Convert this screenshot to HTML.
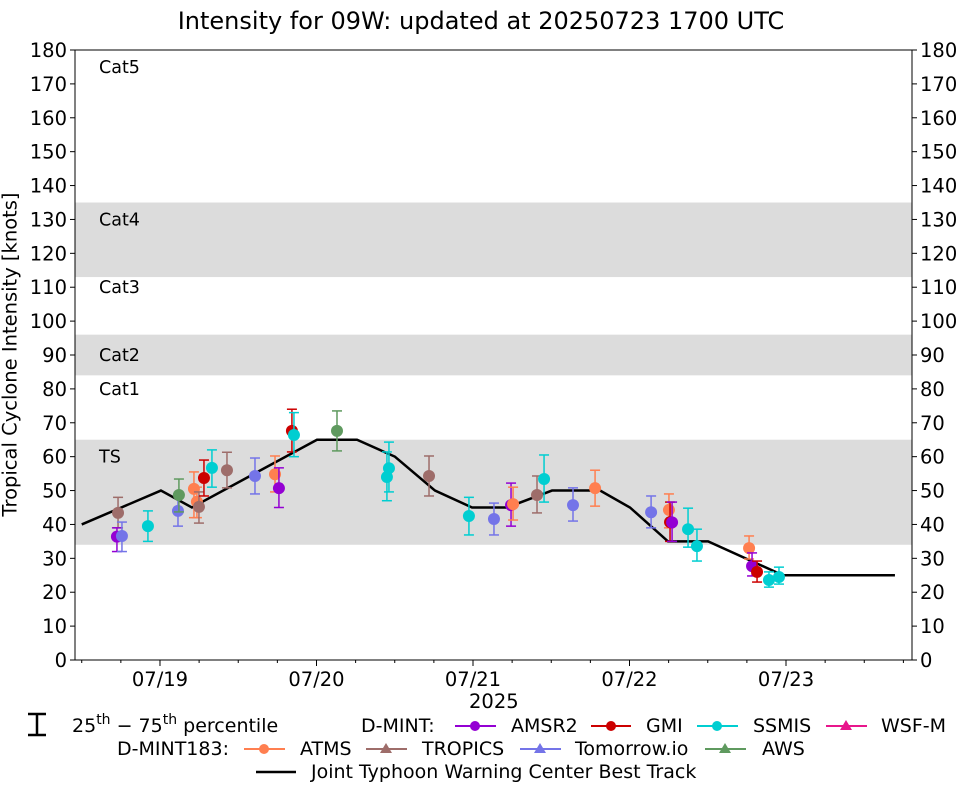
<!DOCTYPE html>
<html><head><meta charset="utf-8"><style>
body{margin:0;background:#fff;}
svg{display:block;font-family:"DejaVu Sans","Liberation Sans",sans-serif;}
</style></head><body>
<svg id="c" width="962" height="785"></svg>
<script>
const trackDays=[0.5,1.006,1.204,2.003,2.259,2.501,2.757,2.994,3.217,3.505,3.812,4.003,4.246,4.502,4.981,5.696];
const trackVals=[40,50,45,65,65,60,50,45,45,50,50,45,35,35,25,25];
const obsSeries=["TROPICS","AMSR2","Tomorrow","SSMIS","Tomorrow","AWS","ATMS","ATMS","TROPICS","GMI","SSMIS","TROPICS","Tomorrow","ATMS","AMSR2","GMI","SSMIS","AWS","SSMIS","SSMIS","TROPICS","SSMIS","Tomorrow","AMSR2","ATMS","TROPICS","SSMIS","Tomorrow","ATMS","Tomorrow","ATMS","GMI","AMSR2","SSMIS","SSMIS","ATMS","AMSR2","GMI","SSMIS","SSMIS"];
const obsDays=[0.732,0.725,0.757,0.923,1.115,1.121,1.217,1.236,1.249,1.281,1.332,1.428,1.607,1.735,1.760,1.843,1.856,2.131,2.450,2.463,2.719,2.974,3.134,3.243,3.256,3.409,3.454,3.639,3.780,4.138,4.252,4.259,4.272,4.374,4.431,4.764,4.783,4.815,4.891,4.955];
const obsVals=[43.4,36.4,36.6,39.5,44,48.7,50.5,46.7,45.2,53.7,56.7,56,54.3,54.8,50.7,67.6,66.4,67.6,54,56.6,54.3,42.5,41.6,45.7,46,48.7,53.4,45.7,50.7,43.6,44.3,40.7,40.6,38.6,33.6,33,27.7,26,23.6,24.5];
const obsLo=[39,32,32,35,39.5,43.7,42,42,40.4,48.4,51,50.8,49,49.6,45,61.4,60,61.7,47,49.6,48.4,36.9,36.9,39.5,41.3,43.4,46.6,41,45.4,39,39,35,35,33.3,29.2,29.8,24.8,23,21.5,22.4];
const obsHi=[48,39,40.7,44,49,53.4,55.5,51,49.6,59,62,61.3,59.6,60.2,56.7,74,73,73.5,61.4,64.3,60.2,48,46.3,52.2,51,54.3,60.5,50.8,56,48.4,49,46.6,46.6,44.8,38.6,36.6,31.6,29.2,26,27.4];
const yTicks=[0,10,20,30,40,50,60,70,80,90,100,110,120,130,140,150,160,170,180];
const xTickDays=[1,2,3,4,5];
const xTickLabels=["07/19","07/20","07/21","07/22","07/23"];
const bands=[[34,65],[84,96],[113,135]];
const catNames=["Cat5","Cat4","Cat3","Cat2","Cat1","TS"];
const catVals=[175,130,110,90,80,60];
const colors={AMSR2:"#9400D3",GMI:"#CC0000",SSMIS:"#00CED1","WSF-M":"#E8168C",ATMS:"#FF7F50",TROPICS:"#9E6D6A",Tomorrow:"#7474E8",AWS:"#5F9A5F"};
const L=75,R=912,T=50,B=660,D0=0.457,D1=5.805;
const X=d=>L+(d-D0)/(D1-D0)*(R-L);
const Y=v=>B-v/180*(B-T);
const svg=document.getElementById('c');const NS="http://www.w3.org/2000/svg";
function mk(t,a,p){const e=document.createElementNS(NS,t);for(const k in a)e.setAttribute(k,a[k]);(p||svg).appendChild(e);return e;}
bands.forEach(b=>{const r=mk('rect',{x:L,y:Y(b[1]),width:R-L,height:Y(b[0])-Y(b[1]),fill:'#dcdcdc'});

});
catNames.forEach((n,i)=>{const t=mk('text',{x:99,y:Y(catVals[i])+6,'font-size':17.5});t.textContent=n;

});
const ax=mk('rect',{x:L,y:T,width:R-L,height:B-T,fill:'none',stroke:'#000','stroke-width':1});


yTicks.forEach(v=>{const y=Y(v);
mk('line',{x1:L-5,x2:L,y1:y,y2:y,stroke:'#000'});mk('line',{x1:R,x2:R+5,y1:y,y2:y,stroke:'#000'});
const a=mk('text',{x:L-8,y:y+7,'text-anchor':'end','font-size':19.5});a.textContent=v;


const b=mk('text',{x:R+8,y:y+7,'font-size':19.5});b.textContent=v;

});
for(let d=0.5;d<D1;d+=0.25){const x=X(d);mk('line',{x1:x,x2:x,y1:B,y2:B+3,stroke:'#000'});}
xTickDays.forEach((d,i)=>{const x=X(d);mk('line',{x1:x,x2:x,y1:B,y2:B+6,stroke:'#000'});
const t=mk('text',{x:x,y:B+26,'text-anchor':'middle','font-size':19.5});t.textContent=xTickLabels[i];

});
const tp=mk('polyline',{points:trackDays.map((d,i)=>X(d)+','+Y(trackVals[i])).join(' '),fill:'none',stroke:'#000','stroke-width':2.5});


obsDays.forEach((d,i)=>{const c=colors[obsSeries[i]];const x=X(d);
const g=mk('g',{});


mk('line',{x1:x,x2:x,y1:Y(obsLo[i]),y2:Y(obsHi[i]),stroke:c,'stroke-width':1.5},g);
mk('line',{x1:x-5,x2:x+5,y1:Y(obsLo[i]),y2:Y(obsLo[i]),stroke:c,'stroke-width':1.5},g);
mk('line',{x1:x-5,x2:x+5,y1:Y(obsHi[i]),y2:Y(obsHi[i]),stroke:c,'stroke-width':1.5},g);
mk('circle',{cx:x,cy:Y(obsVals[i]),r:6,fill:c},g);});
</script>
<div style="position:absolute;left:0;top:0;width:962px;height:785px;font-family:'DejaVu Sans','Liberation Sans',sans-serif;pointer-events:none">
<div style="position:absolute;top:7px;width:962px;text-align:center;font-size:24px">Intensity for 09W: updated at 20250723 1700 UTC</div>
<div style="position:absolute;top:690px;left:469px;font-size:19.5px">2025</div>
<div style="position:absolute;left:-190px;top:343px;width:400px;text-align:center;transform:rotate(-90deg);font-size:19.5px">Tropical Cyclone Intensity [knots]</div>
<svg width="962" height="785" style="position:absolute;left:0;top:0">
<g font-size="19" font-family="DejaVu Sans,Liberation Sans,sans-serif">
<g stroke="#000" stroke-width="2.5"><line x1="37" x2="37" y1="714" y2="735"/><line x1="28" x2="46" y1="714" y2="714"/><line x1="28" x2="46" y1="735" y2="735"/></g>
<text x="72" y="732">25<tspan font-size="14" dy="-8">th</tspan><tspan dy="8"> − 75</tspan><tspan font-size="14" dy="-8">th</tspan><tspan dy="8"> percentile</tspan></text>
<text x="361" y="732">D-MINT:</text>
<line x1="455" x2="496" y1="726" y2="726" stroke="#9400D3" stroke-width="2"/><circle cx="475" cy="726" r="5" fill="#9400D3"/><text x="511" y="732">AMSR2</text>
<line x1="591" x2="631" y1="726" y2="726" stroke="#CC0000" stroke-width="2"/><circle cx="611" cy="726" r="5" fill="#CC0000"/><text x="646" y="732">GMI</text>
<line x1="697" x2="738" y1="726" y2="726" stroke="#00CED1" stroke-width="2"/><circle cx="717" cy="726" r="5" fill="#00CED1"/><text x="753" y="732">SSMIS</text>
<line x1="826" x2="867" y1="726" y2="726" stroke="#E8168C" stroke-width="2"/><polygon points="846,720 852,730 840,730" fill="#E8168C"/><text x="881" y="732">WSF-M</text>
<text x="117" y="755">D-MINT183:</text>
<line x1="244" x2="285" y1="749" y2="749" stroke="#FF7F50" stroke-width="2"/><circle cx="264" cy="749" r="5" fill="#FF7F50"/><text x="300" y="755">ATMS</text>
<line x1="366" x2="407" y1="749" y2="749" stroke="#9E6D6A" stroke-width="2"/><polygon points="386,743 392,753 380,753" fill="#9E6D6A"/><text x="422" y="755">TROPICS</text>
<line x1="520" x2="561" y1="749" y2="749" stroke="#7474E8" stroke-width="2"/><polygon points="540,743 546,753 534,753" fill="#7474E8"/><text x="575" y="755">Tomorrow.io</text>
<line x1="705" x2="746" y1="749" y2="749" stroke="#5F9A5F" stroke-width="2"/><polygon points="725,743 731,753 719,753" fill="#5F9A5F"/><text x="762" y="755">AWS</text>
<line x1="256" x2="296" y1="772" y2="772" stroke="#000" stroke-width="2.5"/><text x="311" y="778">Joint Typhoon Warning Center Best Track</text>
</g></svg>
</div>
</body></html>
